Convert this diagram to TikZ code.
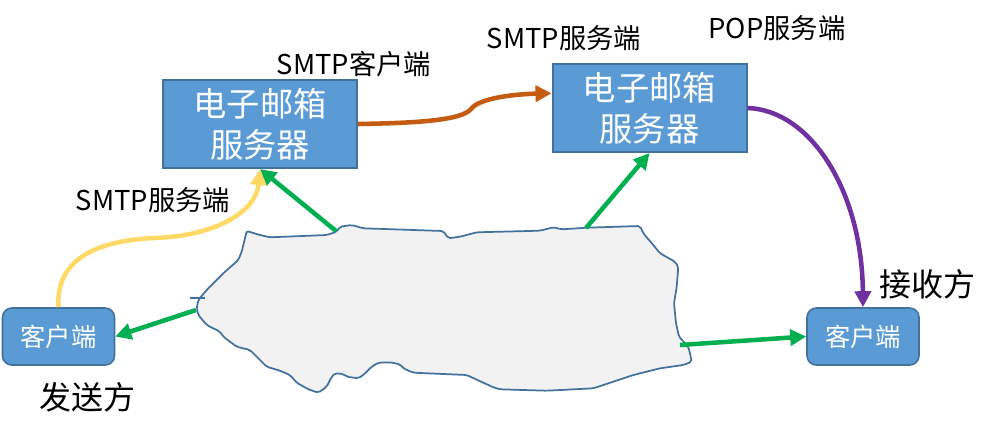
\documentclass[tikz,border=0pt]{standalone}
\usepackage{fontspec}
\setmainfont{Noto Sans CJK SC}
\usetikzlibrary{arrows.meta,calc}
\definecolor{boxfill}{HTML}{5B9BD5}
\definecolor{boxline}{HTML}{41719C}
\definecolor{cloudfill}{HTML}{F2F2F2}
\definecolor{cloudline}{HTML}{41719C}
\definecolor{agreen}{HTML}{00B050}
\definecolor{ayellow}{HTML}{FFD966}
\definecolor{aorange}{HTML}{C55A11}
\definecolor{apurple}{HTML}{7030A0}
\tikzset{
  serverbox/.style={draw=boxline, line width=1.5pt, fill=boxfill, text=white,
    minimum width=145.5pt, minimum height=66pt, inner sep=0pt,
    align=center, font=\fontsize{25}{31}\selectfont},
  clientbox/.style={draw=boxline, line width=1.2pt, fill=boxfill, text=white,
    rounded corners=7pt, minimum width=84pt, minimum height=42.75pt, inner sep=0pt,
    font=\fontsize{19}{22}\selectfont},
  lbl/.style={inner sep=0pt, font=\fontsize{20.5}{24}\selectfont},
  biglbl/.style={inner sep=0pt, font=\fontsize{24}{27}\selectfont},
  conn/.style={line width=3.4pt, -{Triangle[length=12pt,width=12pt]}},
}
\begin{document}
\begin{tikzpicture}[x=0.75pt,y=-0.75pt]
\useasboundingbox (0,0) rectangle (997,437);
% cloud
\draw[cloudline, line width=1.3pt, fill=cloudfill, rounded corners=1.5pt]
 (246.7,231) -- (260,235) -- (270,237.3) -- (326.7,235) -- (336.7,231.7) -- (340,226.7)
 -- (351.7,225) -- (363.3,228.3) -- (443.3,231) -- (448.3,238.3) -- (460,236.7)
 -- (476.7,232.3) -- (540,230.7) -- (553.3,227.3) -- (561.7,229.3) -- (586.7,227.7)
 -- (640,226) -- (643.3,233.3) -- (653.3,245) -- (660,253.3) -- (675,261.7)
 -- (678.3,266.7) -- (676.7,286.7) -- (674,303.3) -- (676,323.3) -- (679,336.7)
 -- (688.3,346.7) -- (690,353.3) -- (691.7,361.7) -- (683.3,365) -- (660,368.3)
 -- (633.3,375) -- (613.3,381.7) -- (593.3,388.3) -- (546.7,390.7) -- (500,389.3)
 -- (493.3,387.3) -- (466.7,375) -- (413.3,372.7) -- (403.3,368.3) -- (400,364.3)
 -- (390,362.3) -- (378.3,362.7) -- (371.7,366.7) -- (363.3,375) -- (358.3,378.3)
 -- (346.7,376.7) -- (343.3,374) -- (335,373.3) -- (331.7,376.7) -- (326.7,386.7)
 -- (318.3,392.7) -- (308.3,389.3) -- (296.7,382.7) -- (290,375) -- (280,370.7)
 -- (266.7,366.7) -- (253.3,353.3) -- (250,350) -- (236.7,346.7) -- (223.3,336.7)
 -- (220,331.7) -- (206.7,325) -- (198.3,315) -- (196.7,308.3) -- (198.3,300)
 -- (206.7,290) -- (223.3,273.3) -- (238.3,260) -- (241.7,251.7) -- cycle;
\draw[cloudline, line width=1.3pt] (190,298.3) -- (205,298.3);
% cloud attachment points
\coordinate (c1) at (336,231);
\coordinate (c2) at (196,310);
\coordinate (c3) at (586,228);
\coordinate (c4) at (680,345);
% boxes
\node[serverbox] (srvL) at (260,124) {电子邮箱\\服务器};
\node[serverbox] (srvR) at (649.5,108) {电子邮箱\\服务器};
\node[clientbox] (cliL) at (58.5,336.5) {客户端};
\node[clientbox] (cliR) at (863,336.5) {客户端};
% labels
\node[lbl] (l1) at (354,64) {SMTP客户端};
\node[lbl] (l2) at (564,38) {SMTP服务端};
\node[lbl] (l3) at (777,28) {POP服务端};
\node[lbl] (l4) at (153,200) {SMTP服务端};
\node[biglbl] (l5) at (927,284) {接收方};
\node[biglbl] (l6) at (88,397) {发送方};
% connectors
\draw[conn, ayellow] (cliL.north) .. controls (55,255) and (105,240) .. (155,238)
  .. controls (215,236) and (256,212) .. (srvL.south);
\draw[conn, agreen] (c1) -- (srvL.south);
\draw[conn, agreen] (c2) -- (cliL.east);
\draw[conn, agreen] (c3) -- (srvR.south);
\draw[conn, agreen] (c4) -- (cliR.west);
\draw[conn, aorange] (srvL.east) .. controls (420,123) and (462,120) .. (471,109)
  .. controls (480,97) and (520,94) .. ([yshift=11pt]srvR.west);
\draw[conn, apurple] (srvR.east) .. controls (810,110) and (862,190) .. (cliR.north);
\end{tikzpicture}
\end{document}
